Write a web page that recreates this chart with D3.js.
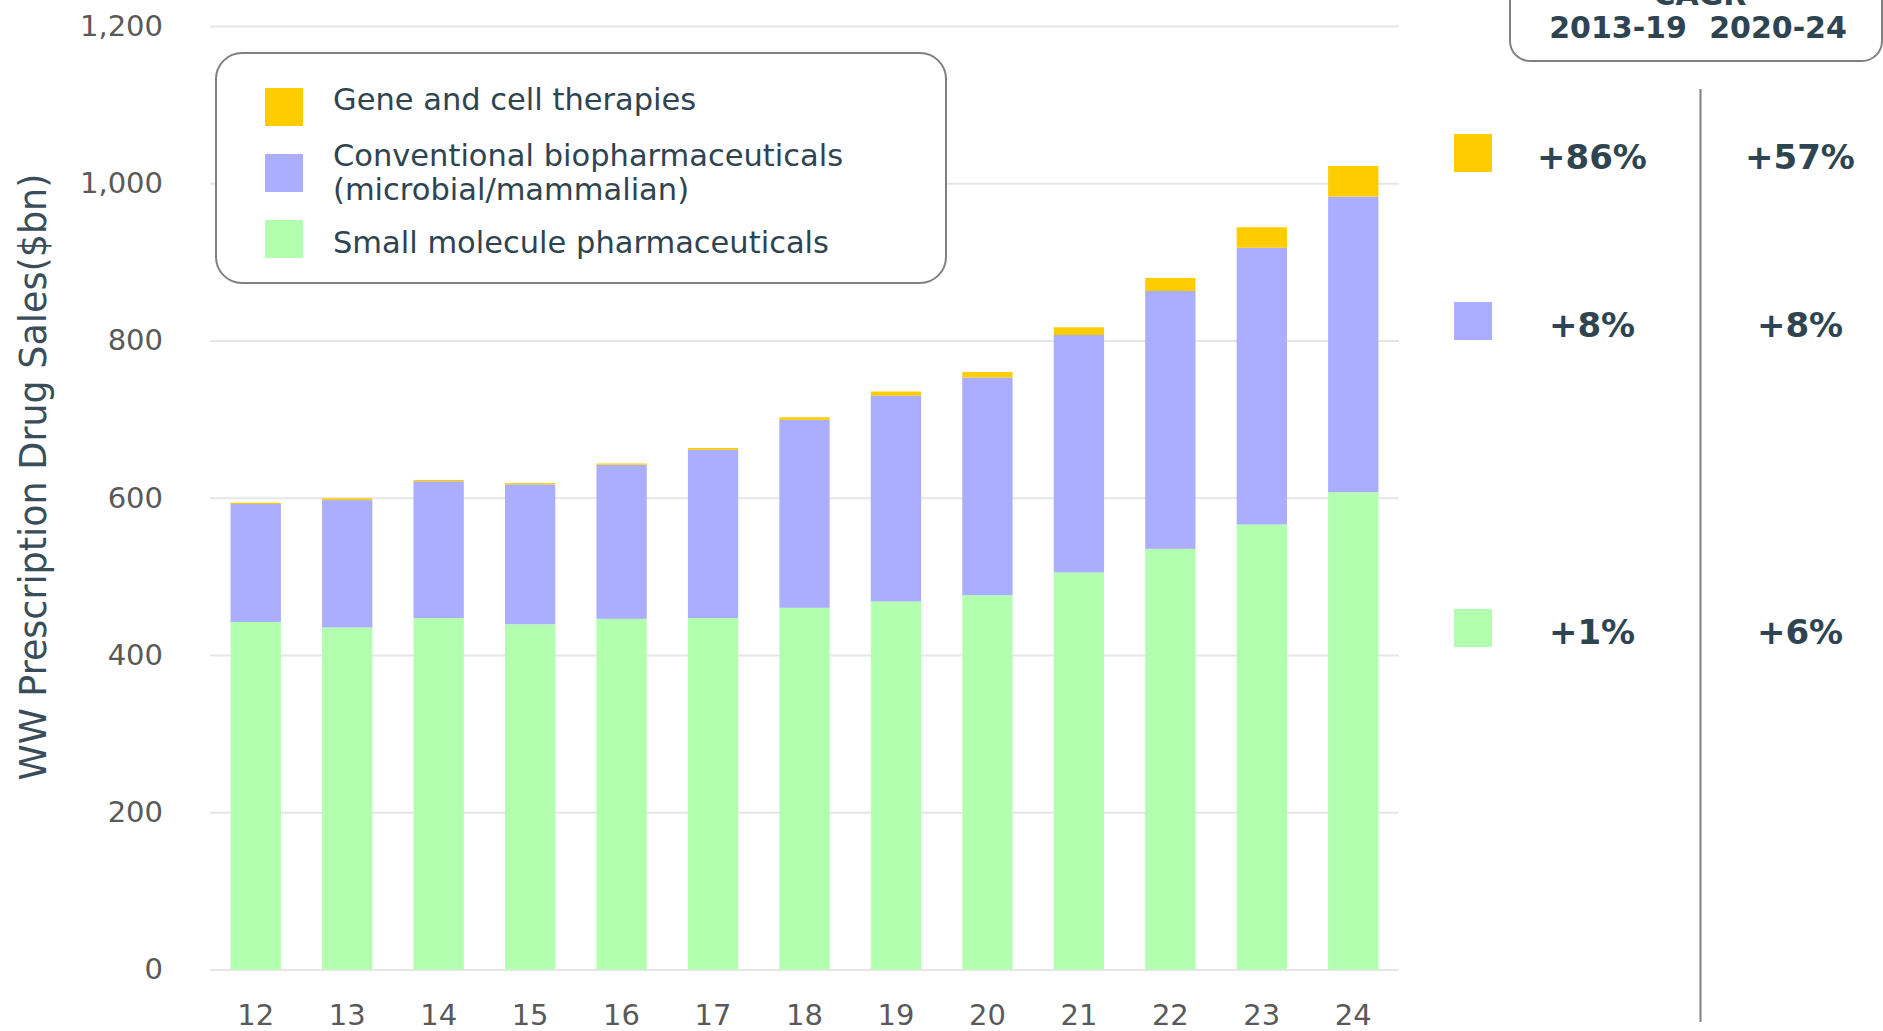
<!DOCTYPE html>
<html>
<head>
<meta charset="utf-8">
<script src="https://cdn.jsdelivr.net/npm/d3@7"></script>
<style>
  html, body { margin: 0; padding: 0; background: #ffffff; }
  svg { display: block; }
  text { font-family: "DejaVu Sans", Verdana, sans-serif; }
</style>
</head>
<body>
<svg id="chart" width="1883" height="1031"></svg>
<script>
// ---------- data ----------
const years = ["12","13","14","15","16","17","18","19","20","21","22","23","24"];
const smallMolecule = [442, 435, 447, 439, 446, 447, 460, 468, 476, 505, 535, 566, 607];
const conventionalBio = [150, 162, 174, 178, 196, 214, 239, 262, 277, 302, 328, 352, 376];
const geneCell = [1.7, 2.2, 1.7, 1.6, 1.6, 2.2, 3.4, 5.1, 6.8, 9.8, 16.6, 26, 39];
const yTicks = [0, 200, 400, 600, 800, 1000, 1200];
const seriesKeys = ["small", "bio", "gene"];
const seriesNames = ["Gene and cell therapies", "Conventional biopharmaceuticals\n(microbial/mammalian)", "Small molecule pharmaceuticals"];
const cagrHeaders = ["2013-19", "2020-24"];
const cagr1319 = ["+86%", "+8%", "+1%"];
const cagr2024 = ["+57%", "+8%", "+6%"];

// ---------- styles ----------
const colors = { small: "#B3FFB0", bio: "#ABAEFF", gene: "#FFCC00" };
const legendOrder = ["gene", "bio", "small"];
const textDark = "#2E4450";

const svg = d3.select("#chart");
const plot = { left: 210, right: 1399, top: 26, bottom: 969.5 };

const table = years.map((yr, i) => ({ year: yr, small: smallMolecule[i], bio: conventionalBio[i], gene: geneCell[i] }));

const x = d3.scaleBand().domain(years).range([plot.left, plot.right]).paddingInner(0.45).paddingOuter(0.225);
const y = d3.scaleLinear().domain([0, 1200]).range([plot.bottom, plot.top]);

// gridlines + y labels
const yAxis = d3.axisLeft(y).tickValues(yTicks).tickFormat(d3.format(","))
  .tickSizeInner(-(plot.right - plot.left)).tickSizeOuter(0).tickPadding(47);
const gy = svg.append("g").attr("transform", `translate(${plot.left},0)`).call(yAxis);
gy.select(".domain").remove();
gy.selectAll(".tick line").attr("stroke", "#E6E6E6").attr("stroke-width", 2);
gy.selectAll(".tick text").attr("fill", "#595959").style("font-size", "29px")
  .style("font-family", "'DejaVu Sans', sans-serif");

// bars
const stacked = d3.stack().keys(seriesKeys)(table);
svg.append("g").selectAll("g").data(stacked).join("g")
  .attr("fill", d => colors[d.key])
  .selectAll("rect").data(d => d).join("rect")
  .attr("x", d => x(d.data.year))
  .attr("width", x.bandwidth())
  .attr("y", d => y(d[1]))
  .attr("height", d => y(d[0]) - y(d[1]));

// x axis labels
const xAxis = d3.axisBottom(x).tickSize(0).tickPadding(34.5);
const gx = svg.append("g").attr("transform", `translate(0,${plot.bottom})`).call(xAxis);
gx.select(".domain").remove();
gx.selectAll(".tick text").attr("fill", "#595959").style("font-size", "29px")
  .style("font-family", "'DejaVu Sans', sans-serif");

// y title
svg.append("text")
  .attr("transform", `translate(46,477) rotate(-90)`)
  .attr("text-anchor", "middle")
  .attr("fill", "#3A4E5A")
  .style("font-size", "36.5px")
  .text("WW Prescription Drug Sales($bn)");

// legend
const lg = svg.append("g");
lg.append("rect").attr("x", 216).attr("y", 53).attr("width", 730).attr("height", 230)
  .attr("rx", 26).attr("ry", 26).attr("fill", "#fff").attr("stroke", "#808080").attr("stroke-width", 2);
const legendRows = [
  { key: "gene", sy: 88, lines: [110] },
  { key: "bio", sy: 154, lines: [166, 200] },
  { key: "small", sy: 220, lines: [253] }
];
legendRows.forEach(r => {
  lg.append("rect").attr("x", 265).attr("y", r.sy).attr("width", 38).attr("height", 38).attr("fill", colors[r.key]);
  const parts = seriesNames[legendOrder.indexOf(r.key)].split("\n");
  parts.forEach((p, j) => {
    lg.append("text").attr("x", 333).attr("y", r.lines[j]).attr("fill", textDark)
      .style("font-size", "30.5px").text(p);
  });
});

// CAGR panel
const cp = svg.append("g");
cp.append("rect").attr("x", 1510).attr("y", -50).attr("width", 372).attr("height", 111)
  .attr("rx", 20).attr("ry", 20).attr("fill", "#fff").attr("stroke", "#808080").attr("stroke-width", 2);
cp.append("text").attr("x", 1700).attr("y", 5).attr("text-anchor", "middle").attr("fill", textDark)
  .style("font-size", "30px").style("font-weight", "bold").text("CAGR");
const colX = [1618, 1778];
cagrHeaders.forEach((h, i) => {
  cp.append("text").attr("x", colX[i]).attr("y", 38).attr("text-anchor", "middle").attr("fill", textDark)
    .style("font-size", "30px").style("font-weight", "bold").text(h);
});
cp.append("line").attr("x1", 1700.5).attr("x2", 1700.5).attr("y1", 89).attr("y2", 1022)
  .attr("stroke", "#808080").attr("stroke-width", 2);
const rowTop = [134, 302, 609];
const valX = [1592, 1800];
legendOrder.forEach((k, i) => {
  cp.append("rect").attr("x", 1454).attr("y", rowTop[i]).attr("width", 38).attr("height", 38).attr("fill", colors[k]);
  [cagr1319[i], cagr2024[i]].forEach((v, j) => {
    cp.append("text").attr("x", valX[j]).attr("y", rowTop[i] + 35).attr("text-anchor", "middle")
      .attr("fill", textDark).style("font-size", "34px").style("font-weight", "bold").text(v);
  });
});
</script>
</body>
</html>
